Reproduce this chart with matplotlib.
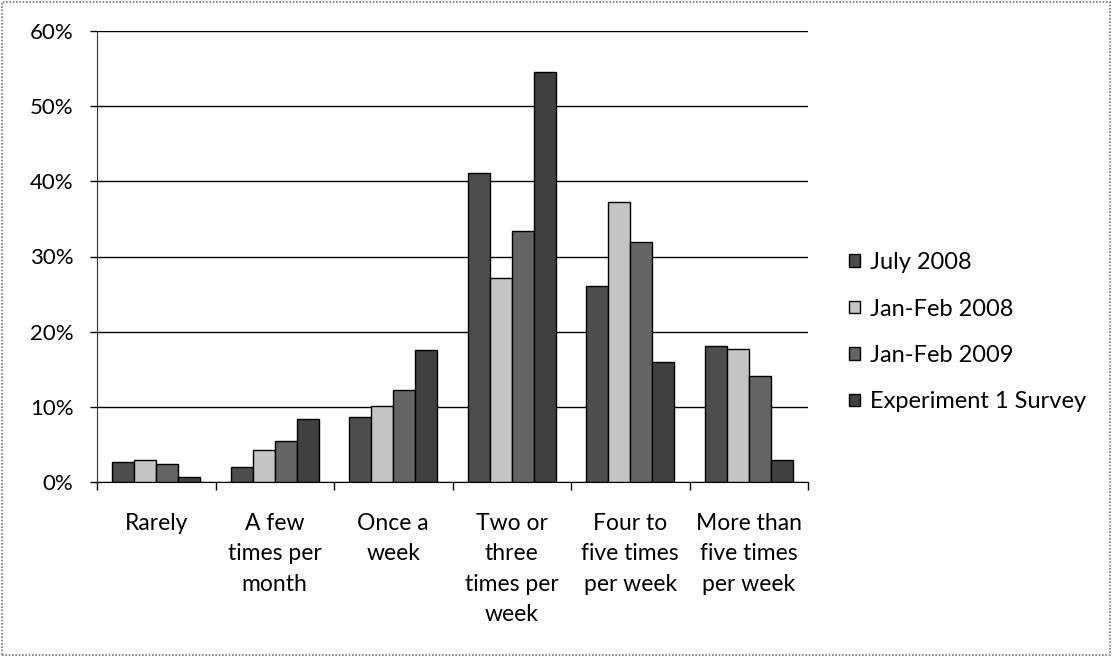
import matplotlib
matplotlib.use("Agg")
import matplotlib.pyplot as plt
import numpy as np
from matplotlib.patches import Rectangle

categories = ["Rarely", "A few\ntimes per\nmonth", "Once a\nweek", "Two or\nthree\ntimes per\nweek",
              "Four to\nfive times\nper week", "More than\nfive times\nper week"]
series_names = ["July 2008", "Jan-Feb 2008", "Jan-Feb 2009", "Experiment 1 Survey"]
july_2008 = [2.6, 2.0, 8.6, 41.1, 26.1, 18.1]
jan_feb_2008 = [2.9, 4.3, 10.1, 27.2, 37.3, 17.7]
jan_feb_2009 = [2.4, 5.4, 12.2, 33.4, 31.9, 14.1]
experiment_1 = [0.6, 8.4, 17.5, 54.6, 15.9, 2.9]
y_ticks = [0, 10, 20, 30, 40, 50, 60]

series = [july_2008, jan_feb_2008, jan_feb_2009, experiment_1]
colors = ["#4d4d4d", "#c4c4c4", "#646464", "#404040"]

plt.rcParams['font.family'] = ['Lato', 'DejaVu Sans']

fig = plt.figure(figsize=(11.13, 6.57), dpi=100)
ax = fig.add_axes([97/1113, 1-482/657, (808-97)/1113, (482-31)/657])

x = np.arange(len(categories))
bw = 0.185
for i, (vals, c) in enumerate(zip(series, colors)):
    ax.bar(x + (i - 1.5) * bw, vals, width=bw, color=c, edgecolor="black", linewidth=1.0,
           label=series_names[i], zorder=3)

ax.set_xlim(-0.5, len(categories) - 0.5)
ax.set_ylim(0, 60)
ax.set_yticks(y_ticks)
ax.set_yticklabels([f"{t}%" for t in y_ticks], fontsize=16)
ax.yaxis.grid(True, color="black", linewidth=1.0, zorder=0)
ax.set_axisbelow(True)

ax.set_xticks(np.arange(-0.5, len(categories), 1.0))
ax.set_xticklabels([])
ax.set_xticks(x, minor=True)
ax.set_xticklabels(categories, minor=True, fontsize=16.5, linespacing=1.56, va="top")
ax.tick_params(axis="x", which="minor", length=0, pad=22)
ax.tick_params(axis="x", which="major", length=6, direction="out", width=1)
ax.tick_params(axis="y", length=5, direction="out", width=1, pad=12)

for s in ["top", "right"]:
    ax.spines[s].set_visible(False)
ax.spines["left"].set_color("#333333")
ax.spines["bottom"].set_color("black")

leg = fig.legend(loc="upper left", bbox_to_anchor=(849/1113, 1-252/657), frameon=False,
                 fontsize=17, handlelength=0.45, handleheight=0.45, handletextpad=0.45,
                 labelspacing=1.08, borderaxespad=0, borderpad=0)

fig.patches.append(Rectangle((0.002, 0.003), 0.995, 0.994, transform=fig.transFigure,
                             fill=False, edgecolor="#777777", linewidth=1.2, linestyle=(0, (1, 1))))

fig.savefig("out.png", dpi=100)
